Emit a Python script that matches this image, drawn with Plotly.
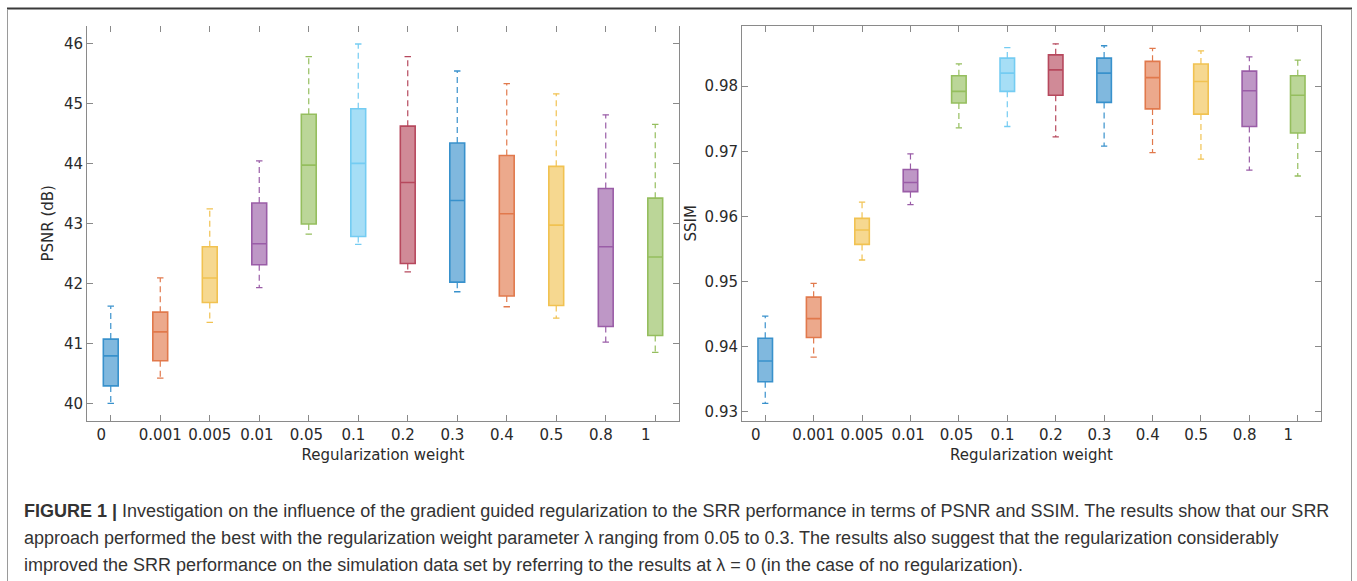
import plotly.graph_objects as go

W, H = 1357, 581

NB = "\u00a0"
categories = ["0", "0.001", "0.005", "0.01", "0.05", "0.1", "0.2", "0.3", "0.4", "0.5", "0.8", "1"]
tick_labels = ["0" + NB * 4, "0.001", "0.005", "0.01" + NB, "0.05" + NB, "0.1" + NB * 2, "0.2" + NB * 2,
               "0.3" + NB * 2, "0.4" + NB * 2, "0.5" + NB * 2, "0.8" + NB * 2, "1" + NB * 4]

# PSNR (dB)
psnr_lower = [40.00, 40.42, 41.35, 41.93, 42.82, 42.65, 42.19, 41.86, 41.61, 41.42, 41.02, 40.85]
psnr_q1 = [40.29, 40.71, 41.68, 42.31, 42.99, 42.78, 42.33, 42.02, 41.79, 41.63, 41.28, 41.13]
psnr_median = [40.79, 41.19, 42.09, 42.66, 43.97, 44.00, 43.68, 43.38, 43.16, 42.97, 42.61, 42.44]
psnr_q3 = [41.07, 41.52, 42.61, 43.34, 44.82, 44.91, 44.62, 44.34, 44.13, 43.95, 43.58, 43.42]
psnr_upper = [41.62, 42.09, 43.24, 44.04, 45.78, 45.99, 45.78, 45.54, 45.33, 45.16, 44.81, 44.65]

# SSIM
ssim_lower = [0.9313, 0.9384, 0.9533, 0.9618, 0.9736, 0.9738, 0.9722, 0.9708, 0.9698, 0.9688, 0.9671, 0.9662]
ssim_q1 = [0.9346, 0.9414, 0.9557, 0.9638, 0.9774, 0.9792, 0.9786, 0.9775, 0.9765, 0.9757, 0.9738, 0.9728]
ssim_median = [0.9378, 0.9443, 0.9579, 0.9652, 0.9792, 0.9820, 0.9825, 0.9820, 0.9813, 0.9807, 0.9793, 0.9786]
ssim_q3 = [0.9413, 0.9476, 0.9597, 0.9672, 0.9816, 0.9843, 0.9848, 0.9843, 0.9838, 0.9834, 0.9823, 0.9816]
ssim_upper = [0.9447, 0.9497, 0.9622, 0.9696, 0.9834, 0.9859, 0.9865, 0.9862, 0.9858, 0.9854, 0.9845, 0.9840]

base_colors = [(0, 114, 189), (217, 83, 25), (237, 177, 32), (126, 47, 142),
               (119, 172, 48), (77, 190, 238), (162, 20, 47)]


def blend(c, a):
    return "rgb(%d,%d,%d)" % tuple(round(a * v + (1 - a) * 255) for v in c)


fig = go.Figure()

BOX_W = 0.3
CAP = 0.065


def add_panel(lower, q1, med, q3, upper, xa, ya):
    for i in range(len(categories)):
        c = base_colors[i % len(base_colors)]
        edge = blend(c, 0.78)
        fill = blend(c, 0.5)
        fig.add_trace(go.Scatter(
            x=[i, i, None, i, i], y=[q3[i], upper[i], None, q1[i], lower[i]],
            mode="lines", line=dict(color=edge, width=1.2, dash="6px,4px"),
            xaxis=xa, yaxis=ya, showlegend=False, hoverinfo="skip"))
        fig.add_trace(go.Scatter(
            x=[i - CAP, i + CAP, None, i - CAP, i + CAP],
            y=[upper[i], upper[i], None, lower[i], lower[i]],
            mode="lines", line=dict(color=edge, width=1.3),
            xaxis=xa, yaxis=ya, showlegend=False, hoverinfo="skip"))
        fig.add_trace(go.Box(
            x=[i], q1=[q1[i]], median=[med[i]], q3=[q3[i]],
            lowerfence=[q1[i]], upperfence=[q3[i]], width=BOX_W,
            fillcolor=fill, line=dict(color=edge, width=1.6),
            boxpoints=False, xaxis=xa, yaxis=ya, showlegend=False, hoverinfo="skip"))


add_panel(psnr_lower, psnr_q1, psnr_median, psnr_q3, psnr_upper, "x", "y")
add_panel(ssim_lower, ssim_q1, ssim_median, ssim_q3, ssim_upper, "x2", "y2")

AX = "#8a8a8a"
TXT = "#2a2a2a"
tickfont = dict(family="DejaVu Sans", size=15, color=TXT)
titlefont = dict(family="DejaVu Sans", size=15, color=TXT)

ydom = [(H - 420.7) / H, (H - 26) / H]
xr = [-0.48, 11.48]

common_x = dict(range=xr, tickmode="array", tickvals=list(range(len(categories))),
                ticks="inside", ticklen=6, tickcolor=AX, tickwidth=1,
                showline=True, linecolor=AX, linewidth=1, showgrid=False, zeroline=False,
                tickfont=tickfont, fixedrange=True)
common_y = dict(ticks="inside", ticklen=6, tickcolor=AX, tickwidth=1,
                showline=True, linecolor=AX, linewidth=1, showgrid=False, zeroline=False,
                mirror="ticks", tickfont=tickfont, fixedrange=True)

fig.update_layout(
    width=W, height=H,
    margin=dict(l=0, r=0, t=0, b=0),
    paper_bgcolor="white", plot_bgcolor="white",
    xaxis=dict(domain=[87 / W, 679 / W], anchor="y", ticktext=tick_labels, mirror=False,
               title=dict(text="Regularization weight", font=titlefont, standoff=6), **common_x),
    xaxis3=dict(overlaying="x", side="top", anchor="y", range=xr, tickmode="array",
                tickvals=list(range(len(categories))), showticklabels=False,
                ticks="inside", ticklen=6, tickcolor=AX, showline=False, showgrid=False,
                zeroline=False, fixedrange=True),
    yaxis=dict(domain=ydom, anchor="x", range=[39.71, 46.29], tickvals=[40, 41, 42, 43, 44, 45, 46],
               title=dict(text="PSNR (dB)", font=titlefont, standoff=6), **common_y),
    xaxis2=dict(domain=[742 / W, 1321 / W], anchor="y2", ticktext=tick_labels, mirror="ticks",
                title=dict(text="Regularization weight", font=titlefont, standoff=6), **common_x),
    yaxis2=dict(domain=ydom, anchor="x2", range=[0.92863, 0.98923],
                tickvals=[0.93, 0.94, 0.95, 0.96, 0.97, 0.98], tickformat=".2f",
                title=dict(text="SSIM", font=titlefont, standoff=4), **common_y),
)

# A dummy trace so xaxis3 is rendered
fig.add_trace(go.Scatter(x=[None], y=[None], xaxis="x3", yaxis="y", showlegend=False, hoverinfo="skip"))

# Frame
fig.add_shape(type="line", xref="paper", yref="paper", x0=7 / W, x1=1352 / W,
              y0=(H - 8.5) / H, y1=(H - 8.5) / H, line=dict(color="#3a3a3a", width=2))
fig.add_shape(type="line", xref="paper", yref="paper", x0=7.5 / W, x1=7.5 / W,
              y0=0, y1=(H - 9) / H, line=dict(color="#9a9a9a", width=1))
fig.add_shape(type="line", xref="paper", yref="paper", x0=1351.5 / W, x1=1351.5 / W,
              y0=0, y1=(H - 9) / H, line=dict(color="#9a9a9a", width=1))

cap_font = dict(family="Liberation Sans", size=18, color="#333333")
lines = [
    "<b>FIGURE 1 |</b> Investigation on the influence of the gradient guided regularization to the SRR performance in terms of PSNR and SSIM. The results show that our SRR",
    "approach performed the best with the regularization weight parameter λ ranging from 0.05 to 0.3. The results also suggest that the regularization considerably",
    "improved the SRR performance on the simulation data set by referring to the results at λ = 0 (in the case of no regularization).",
]
for k, (txt, yc) in enumerate(zip(lines, [511, 538, 565])):
    fig.add_annotation(text=txt, xref="paper", yref="paper", x=22 / W, y=(H - yc) / H,
                       xanchor="left", yanchor="middle", showarrow=False, font=cap_font)

fig.write_html("out.html")
